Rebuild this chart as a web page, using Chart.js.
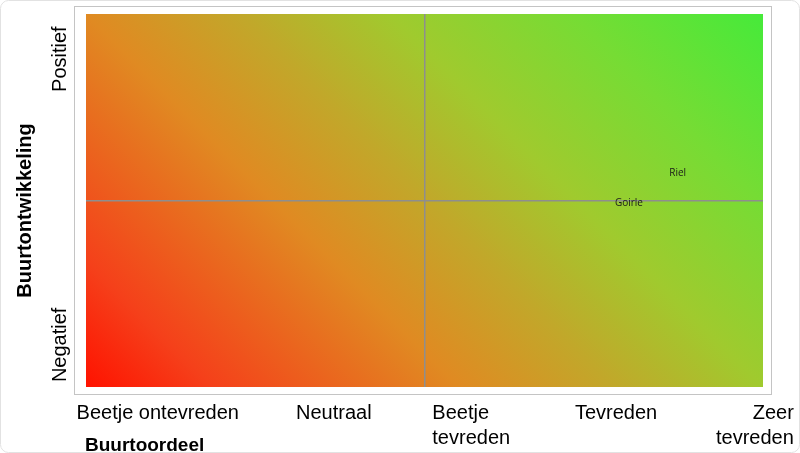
<!DOCTYPE html>
<html>
<head>
    <meta charset="utf-8">
    <title>Buurtoordeel</title>
    <script src="https://cdn.jsdelivr.net/npm/chart.js"></script>
    <style>
        html, body { margin: 0; padding: 0; background: #fff; }
    </style>
</head>
<body>
    <canvas id="chart" width="800" height="453"></canvas>
    <script>
        // assen
        const xLabels = [['Beetje ontevreden'], ['Neutraal'], ['Beetje', 'tevreden'], ['Tevreden'], ['Zeer', 'tevreden']];
        const xLabelValues = [1.06, 3.66, 5.69, 7.83, 9.88];
        const yLabels = ['Negatief', 'Positief'];
        const yLabelValues = [1.13, 8.79];
        const xTitle = 'Buurtoordeel';
        const yTitle = 'Buurtontwikkeling';

        // buurten
        const names = ['Riel', 'Goirle'];
        const oordeel = [8.74, 8.02];
        const ontwikkeling = [5.74, 4.93];

        const xAlign = ['center', 'center', 'left', 'center', 'right'];

        const quadrant = {
            id: 'quadrant',
            beforeDraw(chart) {
                const { ctx, chartArea: a, width, height } = chart;
                ctx.save();
                // rand om het plaatje
                ctx.strokeStyle = '#e2e2e2';
                ctx.lineWidth = 1;
                ctx.beginPath();
                ctx.roundRect(0.5, 0.5, width - 1, height - 1, 8);
                ctx.stroke();
                // kader
                ctx.strokeStyle = '#c4c4c4';
                ctx.strokeRect(a.left - 11.5, a.top - 7.5, a.width + 20, a.height + 15);
                // verloop rood -> groen onder 45 graden
                const s = (a.width + a.height) / 2;
                const g = ctx.createLinearGradient(a.left, a.bottom, a.left + s, a.bottom - s);
                g.addColorStop(0, '#ff1200');
                g.addColorStop(0.12, '#f5401a');
                g.addColorStop(0.355, '#e08a22');
                g.addColorStop(0.5, '#c2a72a');
                g.addColorStop(0.645, '#a0ca2e');
                g.addColorStop(0.82, '#76dc34');
                g.addColorStop(1, '#46ea3a');
                ctx.fillStyle = g;
                ctx.fillRect(a.left, a.top, a.width, a.height);
                ctx.restore();
            },
            afterDraw(chart) {
                const { ctx, chartArea: a } = chart;
                const xs = chart.scales.x, ys = chart.scales.y;
                const meta = chart.getDatasetMeta(0);
                ctx.save();
                ctx.fillStyle = '#1a1a1a';

                // namen bij de punten
                ctx.font = '10px "Open Sans"';
                ctx.textAlign = 'center';
                ctx.textBaseline = 'middle';
                meta.data.forEach((p, i) => ctx.fillText(names[i], p.x, p.y));

                // x labels
                ctx.fillStyle = '#000';
                ctx.font = '20px "Liberation Sans"';
                ctx.textBaseline = 'alphabetic';
                xLabels.forEach((lines, i) => {
                    const cx = xs.getPixelForValue(xLabelValues[i]);
                    const w = Math.max(...lines.map(l => ctx.measureText(l).width));
                    lines.forEach((l, j) => {
                        let x = cx;
                        ctx.textAlign = 'center';
                        if (xAlign[i] === 'left') { x = cx - w / 2; ctx.textAlign = 'left'; }
                        if (xAlign[i] === 'right') { x = cx + w / 2; ctx.textAlign = 'right'; }
                        ctx.fillText(l, x, a.bottom + 32 + j * 25);
                    });
                });

                // x titel
                ctx.font = 'bold 19px "Liberation Sans"';
                ctx.textAlign = 'left';
                ctx.fillText(xTitle, a.left - 1, a.bottom + 64);

                // y labels
                ctx.font = '20px "Liberation Sans"';
                ctx.textAlign = 'center';
                ctx.textBaseline = 'middle';
                yLabels.forEach((l, i) => {
                    ctx.save();
                    ctx.translate(a.left - 26, ys.getPixelForValue(yLabelValues[i]));
                    ctx.rotate(-Math.PI / 2);
                    ctx.fillText(l, 0, 0);
                    ctx.restore();
                });

                // y titel
                ctx.font = 'bold 20px "Liberation Sans"';
                ctx.save();
                ctx.translate(a.left - 61, (a.top + a.bottom) / 2 + 10);
                ctx.rotate(-Math.PI / 2);
                ctx.fillText(yTitle, 0, 0);
                ctx.restore();

                ctx.restore();
            }
        };

        const middle = (scale) => { scale.ticks = [{ value: 5 }]; };

        new Chart(document.getElementById('chart'), {
            type: 'scatter',
            data: {
                datasets: [{
                    data: names.map((n, i) => ({ x: oordeel[i], y: ontwikkeling[i] })),
                    pointRadius: 0,
                    pointHoverRadius: 0
                }]
            },
            options: {
                responsive: false,
                animation: false,
                devicePixelRatio: 1,
                layout: { padding: { left: 86, right: 37, top: 14, bottom: 66 } },
                plugins: { legend: { display: false }, tooltip: { enabled: false } },
                scales: {
                    x: {
                        min: 0, max: 10,
                        afterBuildTicks: middle,
                        ticks: { display: false },
                        border: { display: false },
                        grid: { color: '#8e8e8e', lineWidth: 1.5, drawTicks: false }
                    },
                    y: {
                        min: 0, max: 10,
                        afterBuildTicks: middle,
                        ticks: { display: false },
                        border: { display: false },
                        grid: { color: '#8e8e8e', lineWidth: 1.5, drawTicks: false }
                    }
                }
            },
            plugins: [quadrant]
        });
    </script>
</body>
</html>
